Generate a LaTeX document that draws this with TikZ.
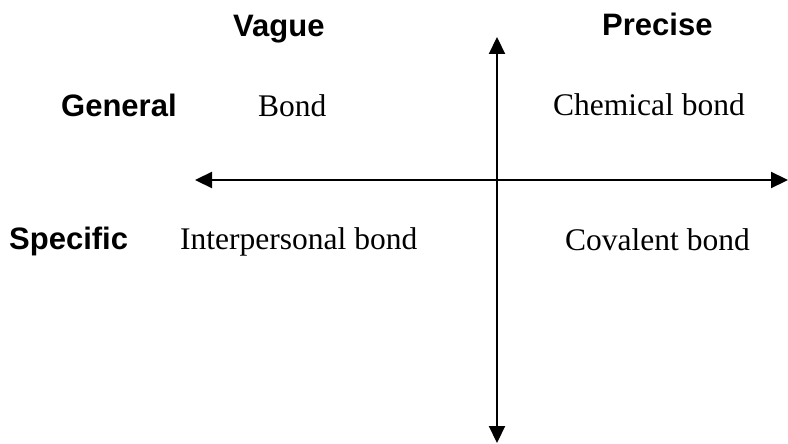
\documentclass[tikz,border=0pt]{standalone}
\usepackage{fontspec}
\setmainfont{Liberation Serif}
\setsansfont{Liberation Sans}
\usetikzlibrary{arrows.meta,positioning}

\begin{document}
\begin{tikzpicture}[x=1pt,y=-1pt,
  axis/.style={line width=2.2pt,{Triangle[length=17pt,width=16pt]}-{Triangle[length=17pt,width=16pt]}},
  head/.style={font=\sffamily\bfseries\fontsize{31}{36}\selectfont,inner sep=0pt,anchor=base west},
  term/.style={font=\fontsize{31.5}{36}\selectfont,inner sep=0pt,anchor=base west}]
  \useasboundingbox (0,0) rectangle (788,444);
  % axes
  \coordinate (left) at (195,180);
  \coordinate (right) at (788,180);
  \coordinate (top) at (497,37);
  \coordinate (bottom) at (497,443);
  \draw[axis] (left) -- (right);
  \draw[axis] (top) -- (bottom);
  % column and row headings
  \node[head] (vague) at (233,37) {Vague};
  \node[head] (precise) at (602,36) {Precise};
  \node[head] (general) at (61,117) {General};
  \node[head] (specific) at (9,249) {Specific};
  % terms
  \node[term] (bond) at (258,117) {Bond};
  \node[term] (chem) at (553,116) {Chemical bond};
  \node[term] (inter) at (180,249) {Interpersonal bond};
  \node[term] (cov) at (565,250) {Covalent bond};
\end{tikzpicture}
\end{document}
